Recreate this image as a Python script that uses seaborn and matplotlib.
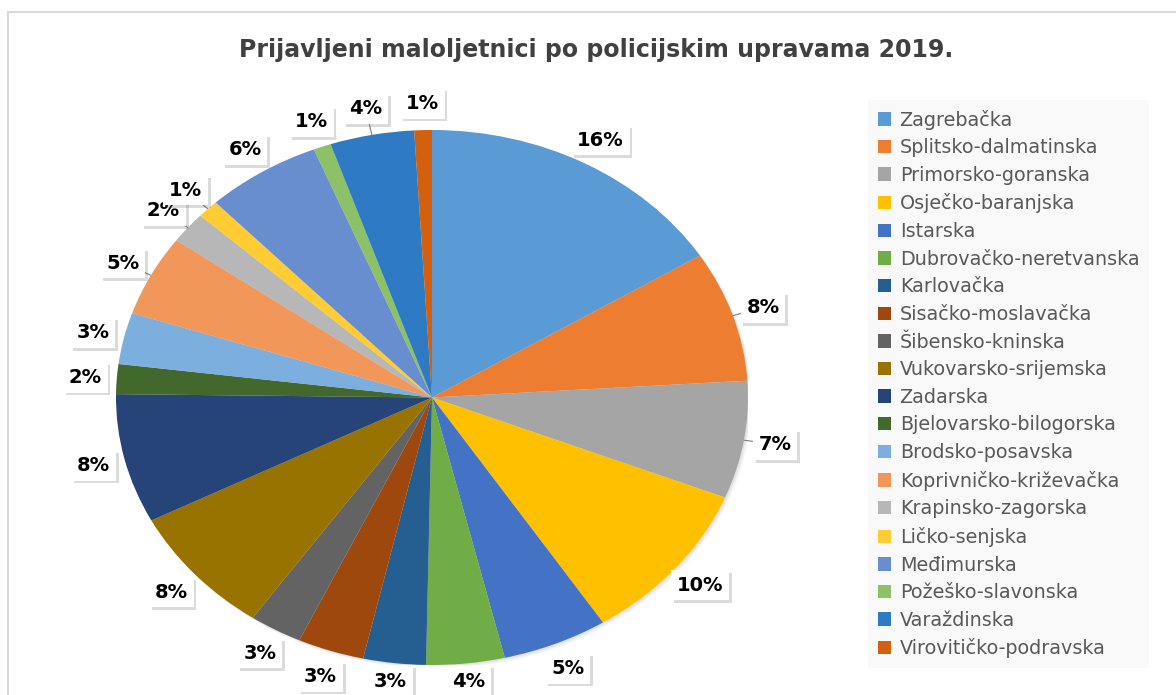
import matplotlib
matplotlib.use("Agg")
import matplotlib.pyplot as plt
import matplotlib.patheffects as pe
from matplotlib.patches import Patch, Rectangle, Circle
import numpy as np
import seaborn as sns

# ---- data ----
categories = ["Zagrebačka", "Splitsko-dalmatinska", "Primorsko-goranska", "Osječko-baranjska",
              "Istarska", "Dubrovačko-neretvanska", "Karlovačka", "Sisačko-moslavačka",
              "Šibensko-kninska", "Vukovarsko-srijemska", "Zadarska", "Bjelovarsko-bilogorska",
              "Brodsko-posavska", "Koprivničko-križevačka", "Krapinsko-zagorska", "Ličko-senjska",
              "Međimurska", "Požeško-slavonska", "Varaždinska", "Virovitičko-podravska"]
shares = [16.1, 7.9, 7.1, 9.8, 5.4, 4.0, 3.2, 3.4, 2.7, 7.8,
          7.8, 1.8, 3.1, 4.9, 1.9, 1.1, 5.9, 0.9, 4.3, 0.9]
colors = ["#5B9BD5", "#ED7D31", "#A5A5A5", "#FFC000", "#4472C4", "#70AD47", "#255E91",
          "#9E480E", "#636363", "#997300", "#264478", "#43682B", "#7CAFDD", "#F1975A",
          "#B7B7B7", "#FFCD33", "#698ED0", "#8CC168", "#2E7BC4", "#D2600F"]
title = "Prijavljeni maloljetnici po policijskim upravama 2019."
leader_idx = [1, 2, 13, 14, 15, 18]

sns.set_theme(style="white")
plt.rcParams['font.family'] = ['DejaVu Sans']
palette = sns.color_palette(colors)

W, H = 1176, 695
fig = plt.figure(figsize=(W / 100, H / 100), dpi=100)
fig.patch.set_facecolor("white")

# chart frame
fig.patches.append(Rectangle((8 / W, -0.05), 1.1, 1 - 12 / H + 0.05, transform=fig.transFigure,
                             fill=False, edgecolor="#D9D9D9", lw=1.5))

ax = fig.add_axes([116 / W, (H - 665) / H, 632 / W, 535 / H])

# soft shadow behind the whole pie
for k, (off, al) in enumerate([(6, 0.06), (4, 0.08), (2, 0.10)]):
    sh = Circle((0, 0), 1.0, facecolor="#808080", edgecolor="none", alpha=al, zorder=0)
    sh.set_transform(ax.transData + matplotlib.transforms.Affine2D().translate(off * 0.6, -off * 0.6))
    ax.add_patch(sh)

wedges, texts, autotexts = ax.pie(shares, colors=palette, startangle=90, counterclock=False,
                                  autopct=lambda p: f"{p:.0f}%", pctdistance=1.1,
                                  wedgeprops=dict(linewidth=0),
                                  textprops=dict(fontsize=14, fontweight="bold", color="black"))
ax.set_aspect("auto")
ax.set_xlim(-1, 1)
ax.set_ylim(-1, 1)
ax.axis("off")

for t in autotexts:
    t.set_ha("center")
    t.set_va("center")
    x, y = t.get_position()
    if y < -1.06:
        t.set_position((x, -1.06))
    t.set_bbox(dict(boxstyle="square,pad=0.3", facecolor="white", edgecolor="none"))
    t.get_bbox_patch().set_path_effects([pe.SimplePatchShadow(offset=(2, -2), alpha=0.2),
                                         pe.Normal()])
    t.set_clip_on(False)

# leader lines
total = sum(shares)
cum = np.cumsum([0] + shares)
for i in leader_idx:
    mid = 90 - 360 * (cum[i] + shares[i] / 2) / total
    a = np.deg2rad(mid)
    ax.plot([np.cos(a) * 1.0, np.cos(a) * 1.05], [np.sin(a) * 1.0, np.sin(a) * 1.05],
            color="#7F7F7F", lw=0.8, clip_on=False, zorder=0.5)

fig.text(596 / W, 1 - 50 / H, title, ha="center", va="center", fontsize=17,
         fontweight="bold", color="#404040")

handles = [Patch(facecolor=c, edgecolor="none") for c in colors]
leg = fig.legend(handles, categories, loc="upper left", bbox_to_anchor=(868 / W, 1 - 100 / H),
                 bbox_transform=fig.transFigure, frameon=True, fontsize=13.8,
                 handlelength=0.7, handleheight=0.7, handletextpad=0.45,
                 labelspacing=0.45, borderpad=0.5, borderaxespad=0, fancybox=False)
leg.get_frame().set_facecolor("#F8F8F8")
leg.get_frame().set_edgecolor("none")
for txt in leg.get_texts():
    txt.set_color("#595959")

fig.savefig("out.png", dpi=100)
